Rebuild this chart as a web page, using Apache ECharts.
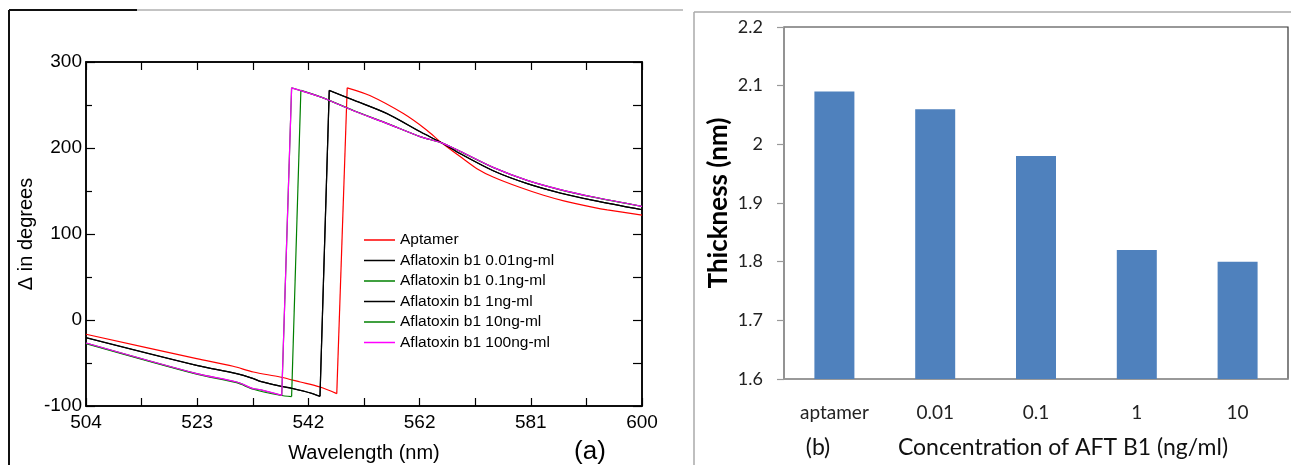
<!DOCTYPE html>
<html>
<head>
<meta charset="utf-8">
<script src="https://cdn.jsdelivr.net/npm/echarts@6/dist/echarts.min.js"></script>
<style>
  html, body { margin: 0; padding: 0; background: #fff; }
  #main { width: 1291px; height: 465px; }
</style>
</head>
<body>
<div id="main"></div>
<script>
// (a) ellipsometry delta vs wavelength, [wavelength nm, delta deg]
var aptamer = [
    [504, -16.6], [523.1, -44.9], [529.4, -53.8], [532.9, -60.5], [537.5, -66.3],
    [541, -72.1], [544.4, -77.9], [547.3, -85.6],
    [549.1, 270], [553, 261], [558.8, 240], [562.8, 221], [565.4, 206], [568.6, 190],
    [571.5, 176], [574.4, 166], [579, 154], [583, 145], [586.5, 138.5], [591.6, 131],
    [594, 128], [600, 122]
];
var afb001 = [
    [504, -20.5], [523.1, -52.7], [530, -62.3], [532.9, -68.1], [534.1, -71.3], [537.5, -76.7],
    [539.8, -79.8], [542.8, -84.9], [544.4, -88.7],
    [546, 267], [550.3, 255.5], [556, 240], [561.8, 218.6], [565.4, 206], [568.6, 193.5],
    [574.4, 173.3], [580.2, 158.6], [585.9, 147.7], [591.6, 139.2], [600, 128.3]
];
var afb01 = [
    [504, -27.5], [523.1, -63], [530, -73], [532.9, -80.5], [537.5, -87.5], [539.5, -89],
    [541.1, 267], [544.5, 259.5], [550.3, 243.3], [556, 228.6], [561.8, 213], [565.4, 206],
    [568.6, 196], [574.4, 177], [580.2, 162.2], [585.9, 151.4], [591.6, 142.8], [600, 132]
];
var afb1 = [
    [504, -20.6], [523.1, -52.8], [530, -62.4], [532.9, -68.2], [534.1, -71.4], [537.5, -76.8],
    [539.8, -79.9], [542.8, -85], [544.4, -88.8],
    [546, 266.8], [550.3, 255.4], [556, 239.9], [561.8, 218.5], [565.4, 206], [568.6, 193.4],
    [574.4, 173.2], [580.2, 158.5], [585.9, 147.6], [591.6, 139.1], [600, 128.2]
];
var afb10 = [
    [504, -26.8], [523.1, -62.4], [530, -72.2], [532.9, -79.9], [534.1, -81.1], [537.8, -87.7],
    [539.5, 270], [544.5, 259.3], [550.3, 243], [556, 228.4], [561.8, 213], [565.4, 206],
    [568.6, 196.2], [574.4, 177.2], [580.2, 162.4], [585.9, 151.6], [591.6, 143], [600, 132.2]
];
var afb100 = [
    [504, -26.7], [523.1, -62.3], [530, -72.1], [532.9, -79.8], [534.1, -81], [537.8, -87.6],
    [539.5, 270], [544.5, 259.3], [550.3, 243], [556, 228.4], [561.8, 213], [565.4, 206],
    [568.6, 196.2], [574.4, 177.2], [580.2, 162.4], [585.9, 151.6], [591.6, 143], [600, 132.2]
];
var lineNames = ['Aptamer', 'Aflatoxin b1 0.01ng-ml', 'Aflatoxin b1 0.1ng-ml',
    'Aflatoxin b1 1ng-ml', 'Aflatoxin b1 10ng-ml', 'Aflatoxin b1 100ng-ml'];
var lineColors = ['#ff0000', '#000000', '#008000', '#000000', '#008000', '#ff00ff'];

// x ticks of (a): 96 nm split in 5, labels are rounded
var xTickValues = [504, 523.2, 542.4, 561.6, 580.8, 600];
var xTickLabels = ['504', '523', '542', '562', '581', '600'];
var xAllTicks = [504, 513.6, 523.2, 532.8, 542.4, 552, 561.6, 571.2, 580.8, 590.4, 600];

// (b) thickness bars
var concCats = ['aptamer', '0.01', '0.1', '1', '10'];
var thickness = [2.09, 2.06, 1.98, 1.82, 1.80];

var arial = '"Liberation Sans", Arial, sans-serif';
var calib = 'Lato, "Open Sans", sans-serif';

var chart = echarts.init(document.getElementById('main'), null, {renderer: 'canvas'});

// each curve: smooth lower branch, straight jump, smooth upper branch
// (same name -> one legend entry)
var seriesList = [];
var allLines = [aptamer, afb001, afb01, afb1, afb10, afb100];
for (var i = 0; i < allLines.length; i++) {
    var d = allLines[i], j = 1;
    while (j < d.length && d[j][1] - d[j - 1][1] < 150) j++;
    var parts = [
        {data: d.slice(0, j), smooth: 0.3},
        {data: d.slice(j - 1, j + 1), smooth: false},
        {data: d.slice(j), smooth: 0.3}
    ];
    for (var p = 0; p < parts.length; p++) {
        seriesList.push({
            name: lineNames[i],
            type: 'line',
            xAxisIndex: 0,
            yAxisIndex: 0,
            data: parts[p].data,
            smooth: parts[p].smooth,
            showSymbol: false,
            color: lineColors[i],
            lineStyle: {width: 1.2, color: lineColors[i]},
            z: 3 + i
        });
    }
}
seriesList.push({
    name: 'Thickness',
    type: 'bar',
    xAxisIndex: 1,
    yAxisIndex: 2,
    data: thickness,
    barWidth: 40,
    itemStyle: {color: '#4f81bd'}
});

var option = {
    animation: false,
    backgroundColor: '#fff',
    grid: [
        {left: 86, top: 62, width: 556, height: 344, show: true, borderColor: '#000', borderWidth: 1.5},
        {left: 784, top: 27, width: 504, height: 352, show: true, borderColor: '#333', borderWidth: 1.2}
    ],
    legend: {
        data: lineNames,
        orient: 'vertical',
        left: 364,
        top: 230,
        padding: 0,
        icon: 'rect',
        itemWidth: 31,
        itemHeight: 1.5,
        itemGap: 0.5,
        textStyle: {fontFamily: arial, fontSize: 15.5, lineHeight: 20, color: '#000'}
    },
    xAxis: [
        {
            gridIndex: 0, type: 'value', position: 'bottom', min: 504, max: 600,
            axisLine: {onZero: false, lineStyle: {color: '#000', width: 1.5}},
            axisTick: {inside: true, length: 8, customValues: xAllTicks, lineStyle: {color: '#000', width: 1.2}},
            axisLabel: {
                customValues: xTickValues, margin: 7, color: '#000',
                fontFamily: arial, fontSize: 19,
                formatter: function (v) {
                    var k = xTickValues.indexOf(v);
                    return k >= 0 ? xTickLabels[k] : '';
                }
            },
            splitLine: {show: false}
        },
        {
            gridIndex: 1, type: 'category', data: concCats,
            axisLine: {lineStyle: {color: '#999', width: 1.5}},
            axisTick: {length: 7, lineStyle: {color: '#999', width: 1.2}},
            axisLabel: {margin: 24, color: '#222', fontFamily: calib, fontSize: 19},
            splitLine: {show: false}
        },
        {
            gridIndex: 0, type: 'value', position: 'top', min: 504, max: 600,
            axisLine: {onZero: false, lineStyle: {color: '#000', width: 1.5}},
            axisTick: {inside: true, length: 8, customValues: xAllTicks, lineStyle: {color: '#000', width: 1.2}},
            axisLabel: {show: false},
            splitLine: {show: false}
        }
    ],
    yAxis: [
        {
            gridIndex: 0, type: 'value', position: 'left', min: -100, max: 300, interval: 100,
            axisLine: {show: true, onZero: false, lineStyle: {color: '#000', width: 1.5}},
            axisTick: {show: true, inside: true, length: 9, lineStyle: {color: '#000', width: 1.2}},
            minorTick: {show: true, splitNumber: 2, length: 6, lineStyle: {color: '#000', width: 1.2}},
            axisLabel: {margin: 4, color: '#000', fontFamily: arial, fontSize: 19},
            splitLine: {show: false}
        },
        {
            gridIndex: 0, type: 'value', position: 'right', min: -100, max: 300, interval: 100,
            axisLine: {show: true, onZero: false, lineStyle: {color: '#000', width: 1.5}},
            axisTick: {show: true, inside: true, length: 9, lineStyle: {color: '#000', width: 1.2}},
            minorTick: {show: true, splitNumber: 2, length: 9, lineStyle: {color: '#000', width: 1.2}},
            axisLabel: {show: false},
            splitLine: {show: false}
        },
        {
            gridIndex: 1, type: 'value', min: 1.6, max: 2.2, interval: 0.1,
            axisLine: {show: true, lineStyle: {color: '#999', width: 1.5}},
            axisTick: {show: true, length: 7, lineStyle: {color: '#999', width: 1.2}},
            axisLabel: {margin: 21, color: '#222', fontFamily: calib, fontSize: 18},
            splitLine: {show: false}
        }
    ],
    series: seriesList,
    graphic: [
        // panel frames
        {type: 'line', shape: {x1: 9, y1: 10, x2: 9, y2: 465}, style: {stroke: '#111', lineWidth: 2}},
        {type: 'line', shape: {x1: 9, y1: 10, x2: 137, y2: 10}, style: {stroke: '#111', lineWidth: 2}},
        {type: 'line', shape: {x1: 137, y1: 10, x2: 683, y2: 10}, style: {stroke: '#888', lineWidth: 1}},
        {type: 'line', shape: {x1: 694, y1: 12, x2: 694, y2: 465}, style: {stroke: '#aaa', lineWidth: 1.5}},
        {type: 'line', shape: {x1: 694, y1: 12, x2: 1291, y2: 12}, style: {stroke: '#aaa', lineWidth: 1.5}},
        // titles
        {type: 'text', x: 26, y: 234, rotation: Math.PI / 2,
            style: {text: 'Δ in degrees', fill: '#000', font: '20px ' + arial, textAlign: 'center', textVerticalAlign: 'middle'}},
        {type: 'text', x: 364, y: 453,
            style: {text: 'Wavelength (nm)', fill: '#000', font: '20px ' + arial, textAlign: 'center', textVerticalAlign: 'middle'}},
        {type: 'text', x: 590, y: 452,
            style: {text: '(a)', fill: '#000', font: '26px ' + arial, textAlign: 'center', textVerticalAlign: 'middle'}},
        {type: 'text', x: 719, y: 203, rotation: Math.PI / 2,
            style: {text: 'Thickness (nm)', fill: '#000', font: 'bold 26px ' + calib, textAlign: 'center', textVerticalAlign: 'middle'}},
        {type: 'text', x: 1063, y: 448,
            style: {text: 'Concentration of AFT B1 (ng/ml)', fill: '#111', font: '23px ' + calib, textAlign: 'center', textVerticalAlign: 'middle'}},
        {type: 'text', x: 818, y: 448,
            style: {text: '(b)', fill: '#111', font: '23px ' + calib, textAlign: 'center', textVerticalAlign: 'middle'}}
    ]
};

chart.setOption(option);
</script>
</body>
</html>
